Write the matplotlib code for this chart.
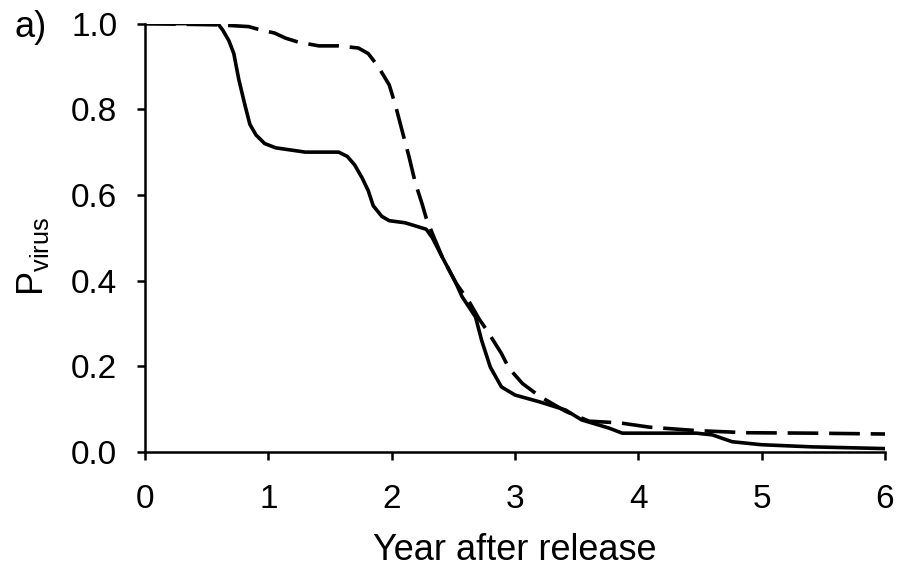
import matplotlib
matplotlib.use("Agg")
import matplotlib.pyplot as plt

plt.rcParams['font.family'] = ['Liberation Sans', 'DejaVu Sans']
plt.rcParams['mathtext.fontset'] = 'custom'
plt.rcParams['mathtext.rm'] = 'Liberation Sans'

# solid curve
year_solid = [0, 0.59, 0.63, 0.68, 0.72, 0.76, 0.81, 0.85, 0.90, 0.97, 1.06, 1.30, 1.57, 1.64,
              1.70, 1.76, 1.81, 1.85, 1.92, 1.98, 2.11, 2.28, 2.33, 2.41, 2.52, 2.57, 2.68,
              2.73, 2.80, 2.89, 3.0, 3.2, 3.41, 3.54, 3.76, 3.87, 4.47, 4.60, 4.76, 5.0,
              5.41, 6.0]
p_solid = [1.0, 1.0, 0.985, 0.96, 0.93, 0.87, 0.81, 0.765, 0.74, 0.72, 0.71, 0.70, 0.70, 0.69,
           0.67, 0.64, 0.61, 0.575, 0.55, 0.54, 0.535, 0.52, 0.50, 0.455, 0.395, 0.363, 0.315,
           0.26, 0.198, 0.152, 0.133, 0.117, 0.098, 0.075, 0.056, 0.044, 0.044, 0.04, 0.024, 0.017,
           0.012, 0.008]

# dashed curve
year_dash = [0, 0.60, 0.84, 0.94, 1.05, 1.14, 1.24, 1.41, 1.57, 1.73, 1.81, 1.89,
             1.98, 2.03, 2.08, 2.14, 2.19, 2.25, 2.28, 2.33, 2.41, 2.52, 2.63, 2.71,
             2.77, 2.89, 2.95, 3.06, 3.13, 3.2, 3.41, 3.60, 3.85, 4.09, 4.47, 4.88, 5.41, 6.0]
p_dash = [1.0, 0.997, 0.993, 0.985, 0.978, 0.966, 0.957, 0.948, 0.948, 0.943, 0.93, 0.90,
          0.857, 0.81, 0.755, 0.69, 0.63, 0.576, 0.546, 0.51, 0.455, 0.395, 0.35, 0.31,
          0.285, 0.23, 0.196, 0.16, 0.145, 0.13, 0.095, 0.072, 0.068, 0.058, 0.05, 0.045, 0.044, 0.042]

xticks = [0, 1, 2, 3, 4, 5, 6]
yticks = [0.0, 0.2, 0.4, 0.6, 0.8, 1.0]

fig = plt.figure(figsize=(8.98, 5.70), dpi=100)
ax = fig.add_axes([0.1615, 0.207, 0.824, 0.7516])

ax.plot(year_solid, p_solid, color="black", lw=2.6)
ax.plot(year_dash, p_dash, color="black", lw=2.6, dashes=(8.5, 3))

ax.set_xlim(0, 6)
ax.set_ylim(0, 1.0)
ax.set_xticks(xticks)
ax.set_yticks(yticks)
ax.set_yticklabels(["%.1f" % v for v in yticks])

# only left and bottom axis lines
ax.spines["top"].set_visible(False)
ax.spines["right"].set_visible(False)
ax.spines["left"].set_linewidth(1.8)
ax.spines["bottom"].set_linewidth(1.8)
ax.tick_params(direction="out", length=6, width=1.8, labelsize=24)
ax.tick_params(axis="y", pad=14)
ax.tick_params(axis="x", pad=17)

ax.set_xlabel("Year after release", fontsize=26, labelpad=13)
fig.text(0.037, 0.55, r"$\mathregular{P_{virus}}$", fontsize=26,
         rotation=90, ha="center", va="center")
fig.text(0.034, 0.952, "a)", fontsize=26, ha="center", va="center")

fig.savefig("out.png", dpi=100)
